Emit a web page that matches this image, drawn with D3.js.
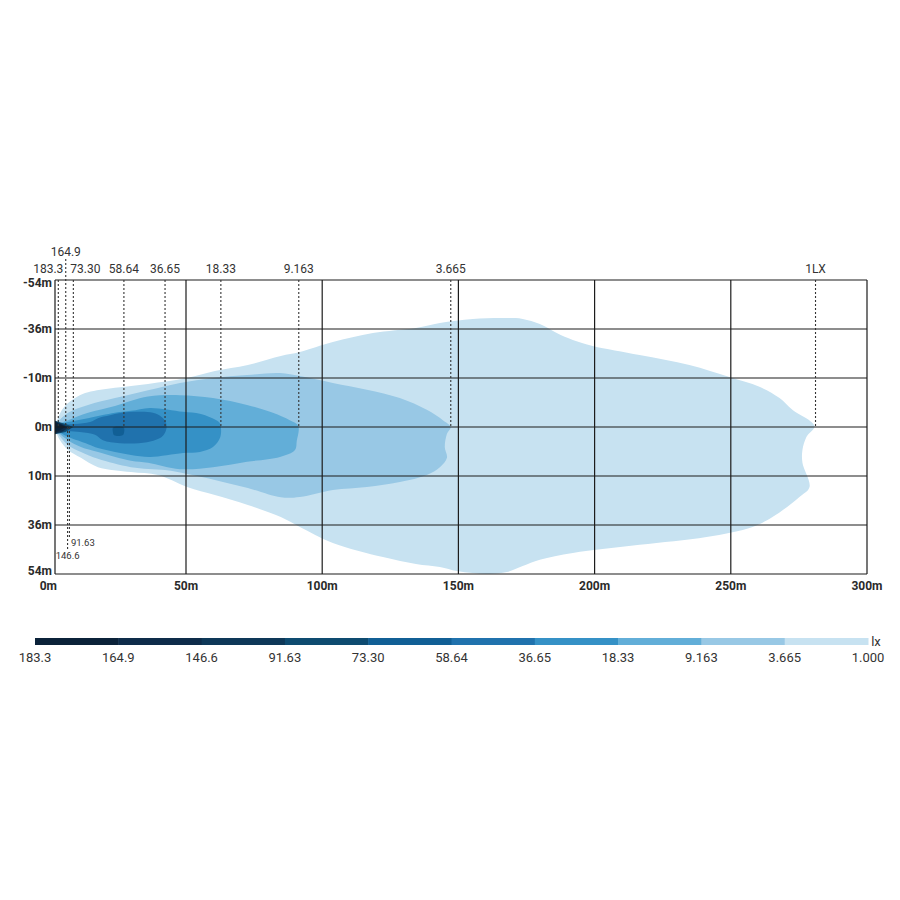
<!DOCTYPE html>
<html><head><meta charset="utf-8">
<script src="https://cdn.jsdelivr.net/npm/d3@7"></script>
<style>body{margin:0;background:#fff}svg{display:block}</style>
</head><body><svg id="c" width="900" height="900"></svg>
<script>
// ---------- data ----------
const xTicks=[0,50,100,150,200,250,300];
const yTicks=[-54,-36,-10,0,10,36,54];
const legendLabels=["183.3","164.9","146.6","91.63","73.30","58.64","36.65","18.33","9.163","3.665","1.000"];
const legendColors=["#0b2239","#0e2c4a","#0e3858","#0e4b70","#115f95","#2072ad","#3591c6","#62aed8","#98c8e5","#c7e2f1"];
const markerLabels=["183.3","164.9","73.30","58.64","36.65","18.33","9.163","3.665","1LX"];
const markerX=[1.26,4.1,7.0,26.3,42.0,62.8,91.4,147.2,281.1];
const lowMarkerLabels=["91.63","146.6"];
const lowMarkerX=[5.5,4.8];
const lowMarkerEnd=[40.4,45.2];

const lx1_000=[[0,0],[1.15,-1.8],[2.7,-3.5],[5.0,-4.9],[8.8,-6.3],[12.6,-7.1],[22.9,-8.0],[35.5,-8.8],[50.4,-10],[60.6,-13.7],[72.7,-16.9],[84.8,-21.7],[91.8,-23.8],[103.9,-29.1],[118.6,-33.9],[134.4,-36.4],[143.2,-38.2],[155.3,-39.7],[167.8,-40.0],[173.6,-39.7],[179.9,-37.8],[186.1,-33.9],[192.0,-30.2],[199.3,-27.0],[216.5,-22.2],[234.8,-16.9],[249.5,-10.5],[260.5,-8.2],[267.9,-5.9],[272.6,-3.5],[280.7,-0.2],[277.8,2.0],[276.3,4.7],[276.3,7.3],[278.9,15.8],[275.2,21.1],[265.3,31.8],[258.0,36.7],[241.1,40.4],[216.5,43.3],[192.0,46.3],[179.9,48.8],[173.6,51.1],[167.8,53.3],[161.5,54.0],[155.3,53.6],[149.4,52.9],[143.2,51.4],[134.4,50.3],[122.3,47.8],[103.9,42.6],[91.8,36.7],[84.8,31.8],[72.7,25.4],[60.6,20.1],[50.4,15.8],[39.3,9.8],[29.0,9.2],[16.4,8.2],[9.9,6.3],[5.0,4.7],[1.9,2.7],[0.4,1.0]];
const lx3_665=[[0,0],[1.15,-1.0],[5.0,-2.9],[12.6,-4.5],[22.9,-5.9],[35.5,-7.5],[47.7,-9.0],[59.9,-10.0],[72.4,-11.6],[84.5,-12.6],[91.8,-11.0],[103.9,-9.0],[116.4,-7.6],[128.5,-5.9],[138.4,-3.5],[144.3,-1.4],[147.2,0],[145.8,1.4],[145.0,4.1],[145.8,6.3],[143.2,8.2],[138.4,9.8],[128.5,13.2],[116.4,15.8],[103.9,17.4],[91.8,21.1],[84.8,21.3],[72.7,16.4],[60.6,12.1],[50.4,9.6],[42.0,8.8],[29.0,8.2],[16.4,6.5],[9.9,5.1],[5.0,3.7],[1.15,1.4]];
const lx9_163=[[0,0],[1.15,-0.6],[5.0,-1.4],[12.6,-2.9],[22.9,-4.3],[35.5,-6.2],[47.7,-6.5],[59.9,-5.9],[72.4,-4.5],[81.9,-2.9],[88.1,-1.4],[91.1,-0.4],[91.4,0.6],[90.7,2.7],[90.0,4.7],[84.5,6.1],[72.4,7.1],[59.9,8.2],[47.7,8.6],[35.5,7.3],[29.0,6.9],[16.4,5.1],[9.9,4.1],[5.0,2.7],[1.15,1.0]];
const lx18_33=[[0,0],[1.15,-0.4],[5.0,-1.0],[12.6,-1.8],[22.9,-2.9],[29.0,-3.3],[36.3,-3.9],[48.9,-3.1],[55.1,-2.7],[58.8,-2.0],[62.1,-1.0],[62.8,0],[62.5,2.2],[59.9,4.1],[55.1,5.1],[48.9,5.3],[36.3,6.1],[29.0,5.7],[22.9,5.1],[16.4,4.3],[12.6,3.5],[5.0,2.0],[1.15,0.8]];
const lx36_65=[[0,0],[1.15,-0.4],[7.6,-0.6],[13.4,-1.0],[16.4,-1.8],[21.0,-2.4],[25.6,-2.9],[31.3,-3.1],[37.4,-2.9],[40.8,-2.0],[42.4,-0.8],[42.4,0.6],[40.8,2.0],[35.1,3.1],[24.8,3.3],[18.3,2.7],[15.3,1.6],[9.5,1.0],[1.15,0.6]];
const lx58_64=[[22.2,0.1],[26.2,0.1],[26.4,1.0],[25.8,1.7],[22.6,1.7],[22.1,1.0]];
const lx73_30=[[0,-1.3],[4,-0.6],[7.0,0],[4,1.0],[0,1.5]];
const lx91_63=[[0,-1.2],[3,-0.5],[5.5,0.1],[3,0.9],[0,1.4]];
const lx146_6=[[0,-1.1],[3,-0.4],[4.8,0.1],[3,0.8],[0,1.3]];
const lx164_9=[[0,-1.0],[2,-0.5],[4.1,0],[2,0.6],[0,1.2]];
const lx183_3=[[0,-0.7],[1.3,0],[0,0.9]];

const contourLevels=["1.000","3.665","9.163","18.33","36.65","58.64","73.30","91.63","146.6","164.9","183.3"];
const contourShapes=[lx1_000,lx3_665,lx9_163,lx18_33,lx36_65,lx58_64,lx73_30,lx91_63,lx146_6,lx164_9,lx183_3];

// ---------- layout ----------
const svg=d3.select("#c");
const plotTop=280,rowH=49;
const x=d3.scaleLinear().domain([0,50,300]).range([55,186,867]);
const y=d3.scaleLinear().domain(yTicks).range(yTicks.map((d,i)=>plotTop+i*rowH));
const txt="#2a2a2a";

svg.append("defs").append("clipPath").attr("id","plot").append("rect")
  .attr("x",x(0)).attr("y",y(-54)).attr("width",x(300)-x(0)).attr("height",y(54)-y(-54));

const g=svg.append("g").attr("clip-path","url(#plot)");
const smooth=d3.line().x(d=>x(d[0])).y(d=>y(d[1])).curve(d3.curveCatmullRomClosed.alpha(0.5));
const sharp=d3.line().x(d=>x(d[0])).y(d=>y(d[1])).curve(d3.curveLinearClosed);
contourShapes.forEach((pts,i)=>{
  const ci=Math.max(0,legendLabels.indexOf(contourLevels[i])-1);
  g.append("path").attr("d",(i<6?smooth:sharp)(pts)).attr("fill",legendColors[ci]);
});

// grid
const grid=svg.append("g").attr("stroke","#1c1c1c").attr("stroke-width",1.2);
xTicks.forEach(t=>grid.append("line").attr("x1",x(t)).attr("x2",x(t)).attr("y1",y(-54)).attr("y2",y(54)));
yTicks.forEach(t=>grid.append("line").attr("x1",x(0)).attr("x2",x(300)).attr("y1",y(t)).attr("y2",y(t)));

// axis labels
const axf="Roboto, 'DejaVu Sans', sans-serif";
svg.append("g").selectAll("text").data(yTicks).join("text")
  .attr("x",x(0)-3).attr("y",(d,i)=>y(d)+(i===0?3:i===yTicks.length-1?-3:0))
  .attr("dy","0.35em").attr("text-anchor","end")
  .attr("font-family",axf).attr("font-weight","bold").attr("font-size",12).attr("fill",txt)
  .text(d=>d+"m");
svg.append("g").selectAll("text").data(xTicks).join("text")
  .attr("x",(d,i)=>i===0?x(d)+2:x(d)).attr("y",y(54)+16)
  .attr("text-anchor",(d,i)=>i===0?"end":"middle")
  .attr("font-family",axf).attr("font-weight","bold").attr("font-size",12).attr("fill",txt)
  .text(d=>d+"m");

// dashed markers
const mk=svg.append("g");
const anchorCfg={"183.3":["end",5],"73.30":["start",-3],"164.9":["middle",0]};
markerLabels.forEach((l,i)=>{
  const px=x(markerX[i]);
  const raised=l==="164.9";
  mk.append("line").attr("x1",px).attr("x2",px)
    .attr("y1",raised?y(-54)-21:y(-54)).attr("y2",y(0))
    .attr("stroke","#333").attr("stroke-width",1.1).attr("stroke-dasharray","2,2");
  const a=anchorCfg[l]||["middle",0];
  mk.append("text").attr("x",px+a[1]).attr("y",raised?y(-54)-24:y(-54)-7)
    .attr("text-anchor",a[0]).attr("font-family",axf).attr("font-size",12).attr("fill","#333").text(l);
});
lowMarkerLabels.forEach((l,i)=>{
  const px=x(lowMarkerX[i]);
  mk.append("line").attr("x1",px).attr("x2",px).attr("y1",y(0)).attr("y2",y(lowMarkerEnd[i]))
    .attr("stroke","#333").attr("stroke-width",1.1).attr("stroke-dasharray","2,2");
  mk.append("text").attr("x",i===0?px+1.5:px).attr("y",y(lowMarkerEnd[i])+9)
    .attr("text-anchor",i===0?"start":"middle").attr("font-family",axf).attr("font-size",9.5).attr("fill","#333").text(l);
});

// legend
const lg=svg.append("g");
const lx=d3.scaleLinear().domain([0,legendLabels.length-1]).range([35,868]);
legendColors.forEach((c,i)=>{
  lg.append("rect").attr("x",lx(i)).attr("y",638).attr("width",lx(i+1)-lx(i)+0.5).attr("height",7).attr("fill",c);
});
lg.selectAll("text.l").data(legendLabels).join("text").attr("class","l")
  .attr("x",(d,i)=>lx(i)).attr("y",662).attr("text-anchor","middle")
  .attr("font-family",axf).attr("font-size",13).attr("fill","#333").text(d=>d);
lg.append("text").attr("x",876).attr("y",646).attr("text-anchor","middle")
  .attr("font-family",axf).attr("font-size",13).attr("fill","#333").text("lx");
</script></body></html>
